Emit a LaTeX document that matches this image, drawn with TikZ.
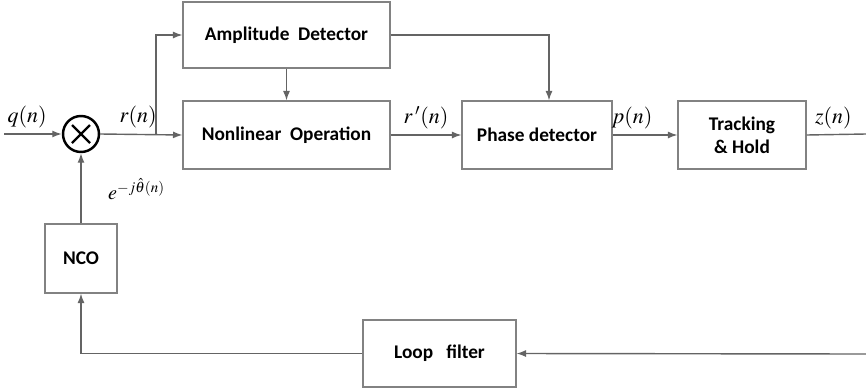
\documentclass[tikz,border=0pt]{standalone}
\usepackage{mathptmx}
\usepackage{fontspec}
\setmainfont{Carlito}
\usetikzlibrary{arrows.meta,positioning,calc}

\begin{document}
\begin{tikzpicture}[
    x=0.02cm, y=-0.02cm,
    >={Latex[length=1.9mm,width=1.4mm]},
    blk/.style={draw=boxline,line width=0.6pt,fill=white,align=center,font=\fontsize{11}{13}\selectfont\bfseries,inner sep=2pt},
    wire/.style={draw=wireline,line width=0.8pt},
    sig/.style={font=\fontsize{12.5}{14}\selectfont,inner sep=1pt},
]
\definecolor{boxline}{RGB}{130,130,130}
\definecolor{wireline}{RGB}{100,100,100}

\useasboundingbox (0,0) rectangle (866,389);

% ================= forward path: mixer and processing blocks =================
\node[draw=black,line width=1.4pt,circle,minimum size=0.72cm,inner sep=0pt] (mix) at (81,134) {};
\draw[line width=1.4pt] ($(mix.center)+(-9,-9)$) -- ($(mix.center)+(9,9)$);
\draw[line width=1.4pt] ($(mix.center)+(-9,9)$) -- ($(mix.center)+(9,-9)$);

\node[blk,minimum width=4.14cm,minimum height=1.32cm] (amp) at (286.5,35) {Amplitude~~Detector};
\node[blk,minimum width=4.14cm,minimum height=1.36cm] (nonlin) at (286.5,135) {Nonlinear~~Operation};
\node[blk,minimum width=3.0cm,minimum height=1.36cm] (phase) at (537,135) {Phase detector};
\node[blk,minimum width=2.56cm,minimum height=1.36cm] (track) at (742,135) {Tracking\\\& Hold};

% ================= feedback path =================
\node[blk,minimum width=1.44cm,minimum height=1.38cm] (nco) at (81,258.5) {NCO};
\node[blk,minimum width=3.06cm,minimum height=1.34cm] (loop) at (439.5,353.5) {Loop~~~filter};

\coordinate (in) at (4,134);
\coordinate (br) at (156,134);
\coordinate (out) at (866,134);
\coordinate (fb) at (866,354);

% ================= connectors =================
\draw[wire,->] (in) -- node[sig,above,pos=0.4,yshift=2pt] {$q(n)$} (mix.west);
\draw[wire,->] (mix.east) -- node[sig,above,pos=0.46,yshift=2pt] {$r(n)$} (nonlin.west);
\draw[wire,->] (br) |- (amp.west);
\draw[wire,->] (amp.south) -- (nonlin.north);
\draw[wire,->] (amp.east) -| ([xshift=0.24cm]phase.north);
\draw[wire,->] (nonlin.east) -- node[sig,above,yshift=2pt] {$r\,'(n)$} (phase.west);
\draw[wire,->] (phase.east) -- node[sig,above,pos=0.3,yshift=2pt] {$p(n)$} (track.west);
\draw[wire] (track.east) -- node[sig,above,pos=0.45,yshift=2pt] {$z(n)$} (out);

\draw[wire,->] (fb) -- (loop.east);
\draw[wire,->] (loop.west) -| (nco.south);
\draw[wire,->] (nco.north) -- (mix.south);
\node[font=\fontsize{11.5}{13}\selectfont,inner sep=1pt,anchor=west] (phlbl) at (106,189) {$e^{-j\hat{\theta}(n)}$};

\end{tikzpicture}
\end{document}
